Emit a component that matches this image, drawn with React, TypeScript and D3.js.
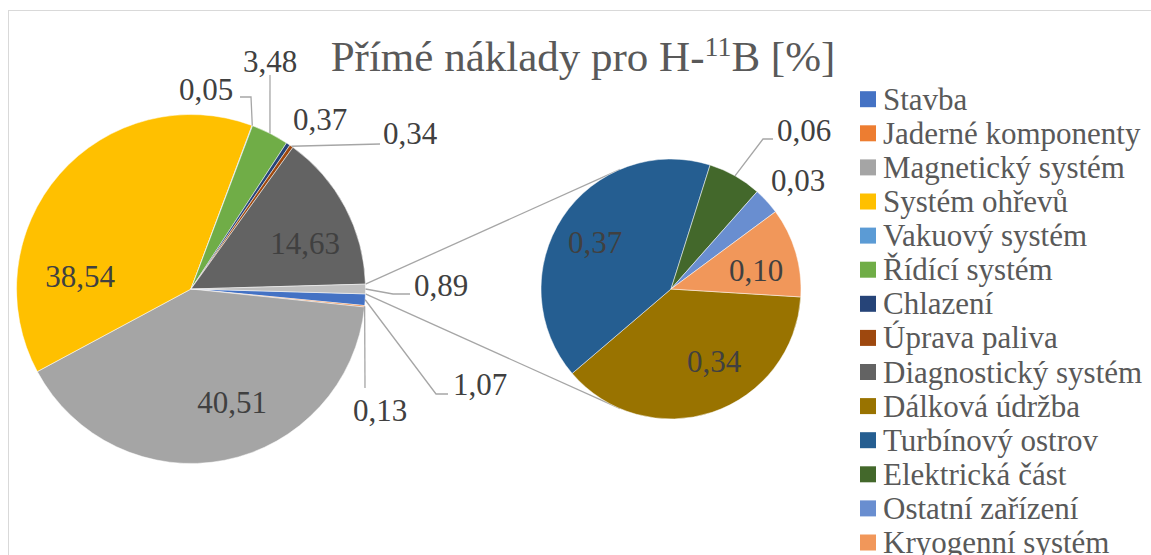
import React from "react";
import * as d3 from "d3";

// ---- data ----
const mainCategories = [
  "Stavba",
  "Jaderné komponenty",
  "Magnetický systém",
  "Systém ohřevů",
  "Vakuový systém",
  "Řídící systém",
  "Chlazení",
  "Úprava paliva",
  "Diagnostický systém",
  "Ostatní",
];
const mainValues = [1.07, 0.13, 40.51, 38.54, 0.05, 3.48, 0.37, 0.34, 14.63, 0.89];

const secondaryCategories = [
  "Dálková údržba",
  "Turbínový ostrov",
  "Elektrická část",
  "Ostatní zařízení",
  "Kryogenní systém",
];
const secondaryValues = [0.34, 0.37, 0.06, 0.03, 0.1];

const legendLabels = [...mainCategories.slice(0, 9), ...secondaryCategories];

const mainColors = [
  "#4472C4",
  "#ED7D31",
  "#A5A5A5",
  "#FFC000",
  "#5B9BD5",
  "#70AD47",
  "#264478",
  "#9E480E",
  "#636363",
  "#BFBFBF",
];
const secondaryColors = ["#997300", "#255E91", "#43682B", "#698ED0", "#F1975A"];

const titleMain = "Přímé náklady pro H-";
const titleSup = "11";
const titleEnd = "B [%]";

// ---- layout ----
const W = 1151;
const H = 555;
const FONT = '"Liberation Serif"';
const mainC = { x: 191, y: 289, r: 174.5 };
const secC = { x: 671, y: 289, r: 130 };
const deg = Math.PI / 180;
const secStart = 93.5 * deg;
const connectorAngles = [-23 * deg, 203 * deg];

type LabelPos = { x: number; y: number; leader?: [number, number][] };
const mainLabelPos: LabelPos[] = [
  { x: 480, y: 384, leader: [[436, 394], [448, 394]] },
  { x: 380, y: 410, leader: [[365, 388]] },
  { x: 232, y: 402 },
  { x: 80, y: 276 },
  { x: 206, y: 89, leader: [[251, 97], [240, 97]] },
  { x: 270, y: 61, leader: [[270, 75]] },
  { x: 320, y: 119 },
  { x: 410, y: 133, leader: [[380, 144]] },
  { x: 305, y: 243 },
  { x: 441, y: 285, leader: [[393, 294], [410, 294]] },
];
const secLabelPos: LabelPos[] = [
  { x: 714, y: 361 },
  { x: 595, y: 242 },
  { x: 804, y: 130, leader: [[763, 139], [773, 139]] },
  { x: 798, y: 180 },
  { x: 756, y: 270 },
];

const fmt = (v: number) => d3.format(".2f")(v).replace(".", ",");

export default function App() {
  const total = d3.sum(mainValues);
  const half = (mainValues[mainValues.length - 1] / total) * Math.PI;
  const mainPie = d3
    .pie<number>()
    .sort(null)
    .value((d) => d)
    .startAngle(Math.PI / 2 + half)
    .endAngle(Math.PI / 2 + half + 2 * Math.PI);
  const mainArcs = mainPie(mainValues);

  const secPie = d3
    .pie<number>()
    .sort(null)
    .value((d) => d)
    .startAngle(secStart)
    .endAngle(secStart + 2 * Math.PI);
  const secArcs = secPie(secondaryValues);

  const mainArc = d3.arc<d3.PieArcDatum<number>>().innerRadius(0).outerRadius(mainC.r);
  const mainEdge = d3.arc<d3.PieArcDatum<number>>().innerRadius(mainC.r).outerRadius(mainC.r);
  const secArc = d3.arc<d3.PieArcDatum<number>>().innerRadius(0).outerRadius(secC.r);
  const secEdge = d3.arc<d3.PieArcDatum<number>>().innerRadius(secC.r).outerRadius(secC.r);

  const other = mainArcs[mainArcs.length - 1];
  const polar = (c: { x: number; y: number; r: number }, a: number): [number, number] => [
    c.x + c.r * Math.sin(a),
    c.y - c.r * Math.cos(a),
  ];
  const conn = [
    [polar(mainC, other.startAngle), polar(secC, connectorAngles[0])],
    [polar(mainC, other.endAngle), polar(secC, connectorAngles[1])],
  ];

  const line = d3.line();
  const labelFont = 31;

  const renderLabels = (
    arcs: d3.PieArcDatum<number>[],
    pos: LabelPos[],
    edge: any,
    c: { x: number; y: number }
  ) =>
    arcs.map((a, i) => {
      const p = pos[i];
      const start = edge.centroid(a) as [number, number];
      const s: [number, number] = [c.x + start[0], c.y + start[1]];
      return (
        <g key={i}>
          {p.leader && (
            <path
              d={line([s, ...p.leader]) || ""}
              fill="none"
              stroke="#A6A6A6"
              strokeWidth={1.3}
            />
          )}
          <text
            x={p.x}
            y={p.y + labelFont * 0.34}
            textAnchor="middle"
            style={{ fontFamily: FONT }}
            fontSize={labelFont}
            fill="#404040"
          >
            {fmt(a.data)}
          </text>
        </g>
      );
    });

  const legendY0 = 99.2;
  const legendStep = 34.1;

  return (
    <svg
      width={W}
      height={H}
      style={{ position: "absolute", left: 0, top: 0, background: "#fff" }}
    >
      <rect x={8.5} y={10.5} width={1200} height={600} fill="#fff" stroke="#D9D9D9" strokeWidth={1} />
      <text
        x={583}
        y={71}
        textAnchor="middle"
        style={{ fontFamily: FONT }}
        fontSize={43}
        fill="#595959"
      >
        {titleMain}
        <tspan fontSize={28} dy={-15}>
          {titleSup}
        </tspan>
        <tspan dy={15}>{titleEnd}</tspan>
      </text>

      {conn.map((l, i) => (
        <path key={i} d={line(l as [number, number][]) || ""} stroke="#A6A6A6" strokeWidth={1.3} fill="none" />
      ))}

      <g transform={`translate(${mainC.x},${mainC.y})`}>
        {mainArcs.map((a, i) => (
          <path key={i} d={mainArc(a) || ""} fill={mainColors[i]} stroke="#fff" strokeWidth={0.5} />
        ))}
      </g>
      <g transform={`translate(${secC.x},${secC.y})`}>
        {secArcs.map((a, i) => (
          <path key={i} d={secArc(a) || ""} fill={secondaryColors[i]} stroke="#fff" strokeWidth={0.5} />
        ))}
      </g>

      {renderLabels(mainArcs, mainLabelPos, mainEdge, mainC)}
      {renderLabels(secArcs, secLabelPos, secEdge, secC)}

      <g>
        {legendLabels.map((lab, i) => {
          const cy = legendY0 + i * legendStep;
          const color = i < 9 ? mainColors[i] : secondaryColors[i - 9];
          return (
            <g key={i}>
              <rect x={860} y={cy - 8} width={16} height={16} fill={color} />
              <text
                x={883}
                y={cy + 10.5}
                style={{ fontFamily: FONT }}
                fontSize={31}
                fill="#595959"
              >
                {lab}
              </text>
            </g>
          );
        })}
      </g>
    </svg>
  );
}
